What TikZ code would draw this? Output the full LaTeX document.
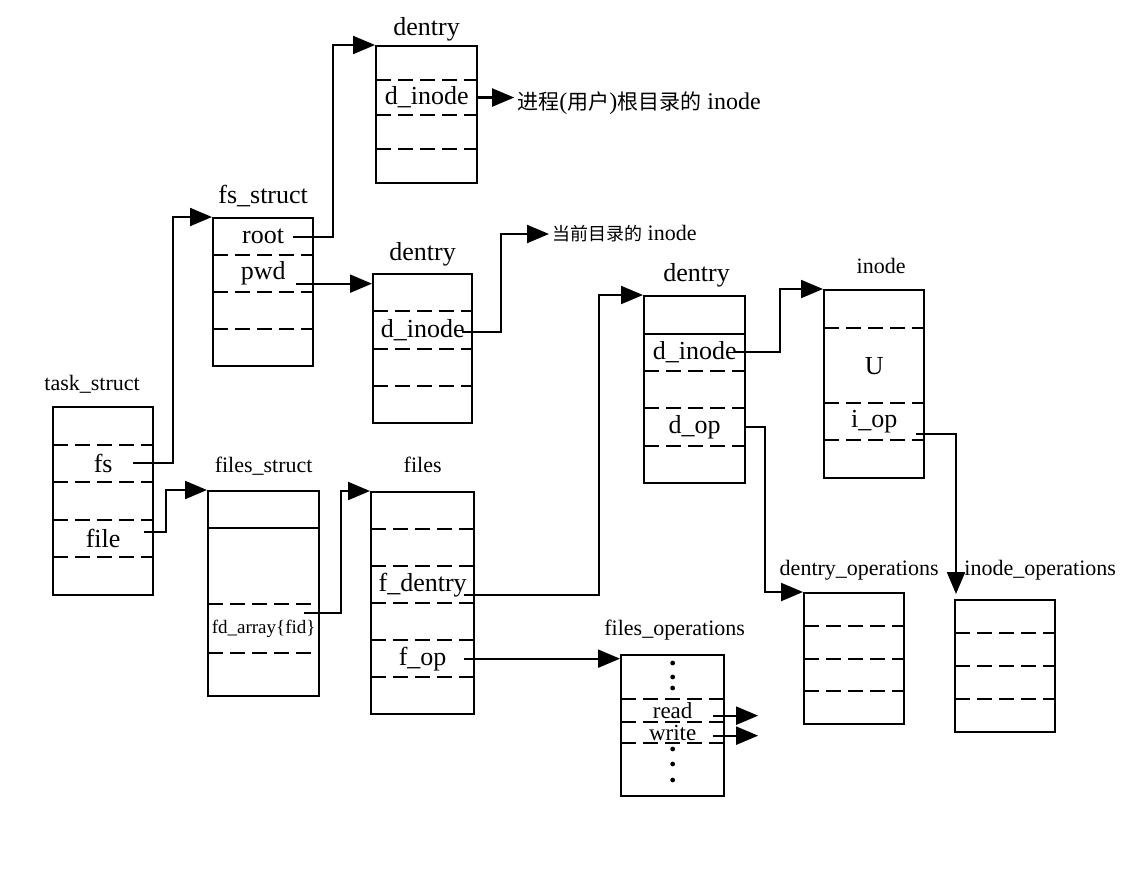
\documentclass[tikz,border=0pt]{standalone}
\usepackage{fontspec}
\setmainfont{Liberation Serif}
\newfontfamily\cjk{Noto Sans CJK SC}
\usetikzlibrary{arrows.meta,positioning,calc}
\newcommand\titlesize{\fontsize{22}{24}\selectfont}
\newcommand\bigtitlesize{\fontsize{26}{28}\selectfont}
\newcommand\fieldsize{\fontsize{26}{28}\selectfont}
\newcommand\zh[2]{{\cjk\fontsize{#1}{#1}\selectfont #2}}
\tikzset{
  struct/.style 2 args={draw,line width=2.3pt,inner sep=0pt,row sep=0pt,anchor=north west,
    nodes={minimum width=#1,minimum height=#2,inner sep=0pt,outer sep=0pt,anchor=center,font=\fieldsize}},
  sep/.style={line width=2.1pt,dash pattern=on 15pt off 7pt},
  link/.style={line width=2.1pt,-{Triangle[length=22pt,width=18pt]}},
  title/.style={font=\titlesize,inner sep=0pt,anchor=base},
  bigtitle/.style={title,font=\bigtitlesize},
  note/.style={anchor=west,inner sep=3pt},
}
\begin{document}
\begin{tikzpicture}[x=1pt,y=-1pt]
\useasboundingbox (0,0) rectangle (1148,887);
% structures
\matrix (task) [struct={100pt}{37.5pt}] at (52,406) {
  \node (task-1) {};\\
  \node (task-2) {fs};\\
  \node (task-3) {};\\
  \node (task-4) {file};\\
  \node (task-5) {};\\
};
\matrix (fss) [struct={100pt}{37pt}] at (212,217) {
  \node (fss-1) {root};\\
  \node (fss-2) {pwd};\\
  \node (fss-3) {};\\
  \node (fss-4) {};\\
};
\matrix (dent1) [struct={101pt}{34.25pt}] at (375,45) {
  \node (dent1-1) {};\\
  \node (dent1-2) {d\_inode};\\
  \node (dent1-3) {};\\
  \node (dent1-4) {};\\
};
\matrix (dent2) [struct={99pt}{37.25pt}] at (372,273) {
  \node (dent2-1) {};\\
  \node (dent2-2) {d\_inode};\\
  \node (dent2-3) {};\\
  \node (dent2-4) {};\\
};
\matrix (fst) [struct={111pt}{37pt}] at (207,490) {
  \node (fst-1) {};\\
  \node (fst-2) [minimum height=76pt] {};\\
  \node (fst-3) [minimum height=49pt,font=\fontsize{19}{21}\selectfont] {fd\_array\{fid\}};\\
  \node (fst-4) [minimum height=43pt] {};\\
};
\matrix (files) [struct={103pt}{37pt}] at (370,491) {
  \node (files-1) {};\\
  \node (files-2) {};\\
  \node (files-3) {f\_dentry};\\
  \node (files-4) {};\\
  \node (files-5) {f\_op};\\
  \node (files-6) {};\\
};
\matrix (dent3) [struct={101pt}{37.4pt}] at (643,295) {
  \node (dent3-1) {};\\
  \node (dent3-2) {d\_inode};\\
  \node (dent3-3) {};\\
  \node (dent3-4) {d\_op};\\
  \node (dent3-5) {};\\
};
\matrix (inode) [struct={100pt}{38pt}] at (823,289) {
  \node (inode-1) {};\\
  \node (inode-2) [minimum height=75pt] {U};\\
  \node (inode-3) [minimum height=37pt] {i\_op};\\
  \node (inode-4) {};\\
};
\matrix (fops) [struct={103pt}{23pt}] at (620,654) {
  \node (fops-1) [minimum height=44pt] {};\\
  \node (fops-2) [font=\fontsize{23}{25}\selectfont] {read};\\
  \node (fops-3) [minimum height=21pt,font=\fontsize{23}{25}\selectfont] {write};\\
  \node (fops-4) [minimum height=53pt] {};\\
};
\matrix (dops) [struct={100pt}{32.75pt}] at (803,592) {
  \node (dops-1) {};\\
  \node (dops-2) {};\\
  \node (dops-3) {};\\
  \node (dops-4) {};\\
};
\matrix (iops) [struct={100pt}{33pt}] at (954,599) {
  \node (iops-1) {};\\
  \node (iops-2) {};\\
  \node (iops-3) {};\\
  \node (iops-4) {};\\
};
% field separators
\foreach \m/\a/\b in {task/1/4,fss/1/3,dent1/1/3,dent2/1/3,fst/2/3,files/1/5,dent3/2/4,inode/1/3,fops/1/3,dops/1/3,iops/1/3}
  \foreach \r in {\a,...,\b}
    \draw[sep] (\m-\r.south west) -- (\m-\r.south east);
\draw[line width=2.1pt] (fst-1.south west) -- (fst-1.south east);
\draw[line width=2.1pt] (dent3-1.south west) -- (dent3-1.south east);
\foreach \d in {9,23,34,95,110,126}
  \fill ($(fops.north)+(0,\d)$) circle (2.4pt);
% titles
\node (tasktitle) [above=16pt of task.north,xshift=-11pt,title] {task\_struct};
\node (fsstitle) [above=14pt of fss.north,bigtitle] {fs\_struct};
\node (dent1title) [above=10pt of dent1.north,bigtitle] {dentry};
\node (dent2title) [above=13pt of dent2.north,bigtitle] {dentry};
\node (fsttitle) [above=18pt of fst.north,title] {files\_struct};
\node (filestitle) [above=19pt of files.north,title] {files};
\node (dent3title) [above=14pt of dent3.north,xshift=2pt,bigtitle] {dentry};
\node (inodetitle) [above=16pt of inode.north,xshift=7pt,title] {inode};
\node (fopstitle) [above=19pt of fops.north,xshift=2pt,title] {files\_operations};
\node (dopstitle) [above=17pt of dops.north,xshift=5pt,title] {dentry\_operations};
\node (iopstitle) [above=24pt of iops.north,xshift=35pt,title] {inode\_operations};
% notes
\node (rootnote) [note,right=37pt of dent1-2.east,yshift=-6pt,font=\fontsize{24}{26}\selectfont]
  {\zh{21}{进程}(\zh{21}{用户})\zh{21}{根目录的} inode};
\node (pwdnote) [note,font=\fontsize{22}{24}\selectfont] at (549,234) {\zh{18}{当前目录的} inode};
% connectors
\coordinate (pwdout) at ($(fss-2.east)+(-17,10)$);
\coordinate (fopout) at ($(files-5.east)+(-10,0)$);
\coordinate (iopin) at ($(iops.north west)+(2,-5)$);
\coordinate (readout) at ($(fops-2.east)+(34,5)$);
\coordinate (writeout) at ($(fops-3.east)+(34,3)$);
\draw[link] ($(task-2.east)+(-20,0)$) -- ++(40,0) |- (fss.north west);
\draw[link] ($(task-4.east)+(-9,-6)$) -- ++(22,0) |- (fst.north west);
\draw[link] ($(fss-1.east)+(-20,0)$) -- ++(40,0) |- (dent1.north west);
\draw[link] (pwdout) -- (pwdout -| dent2.west);
\draw[link] (dent1-2.east) -- (dent1-2.east -| rootnote.west);
\draw[link] ($(dent2-2.east)+(-10,2)$) -- ++(39,0) |- (pwdnote.west);
\draw[link] ($(fst-3.east)+(-15,-16)$) -- ++(37,0) |- (files.north west);
\draw[link] ($(files-3.east)+(-10,10)$) -- ++(135,0) |- (dent3.north west);
\draw[link] (fopout) -- (fopout -| fops.west);
\draw[link] ($(dent3-2.east)+(-11,0)$) -- ++(46,0) |- (inode.north west);
\draw[link] (dent3-4.east) -- ++(20,0) |- (dops.north west);
\draw[link] ($(inode-3.east)+(-8,12)$) -| (iopin);
\draw[link] ($(fops-2.east)+(-11,5)$) -- (readout);
\draw[link] ($(fops-3.east)+(-11,3)$) -- (writeout);
\end{tikzpicture}
\end{document}
